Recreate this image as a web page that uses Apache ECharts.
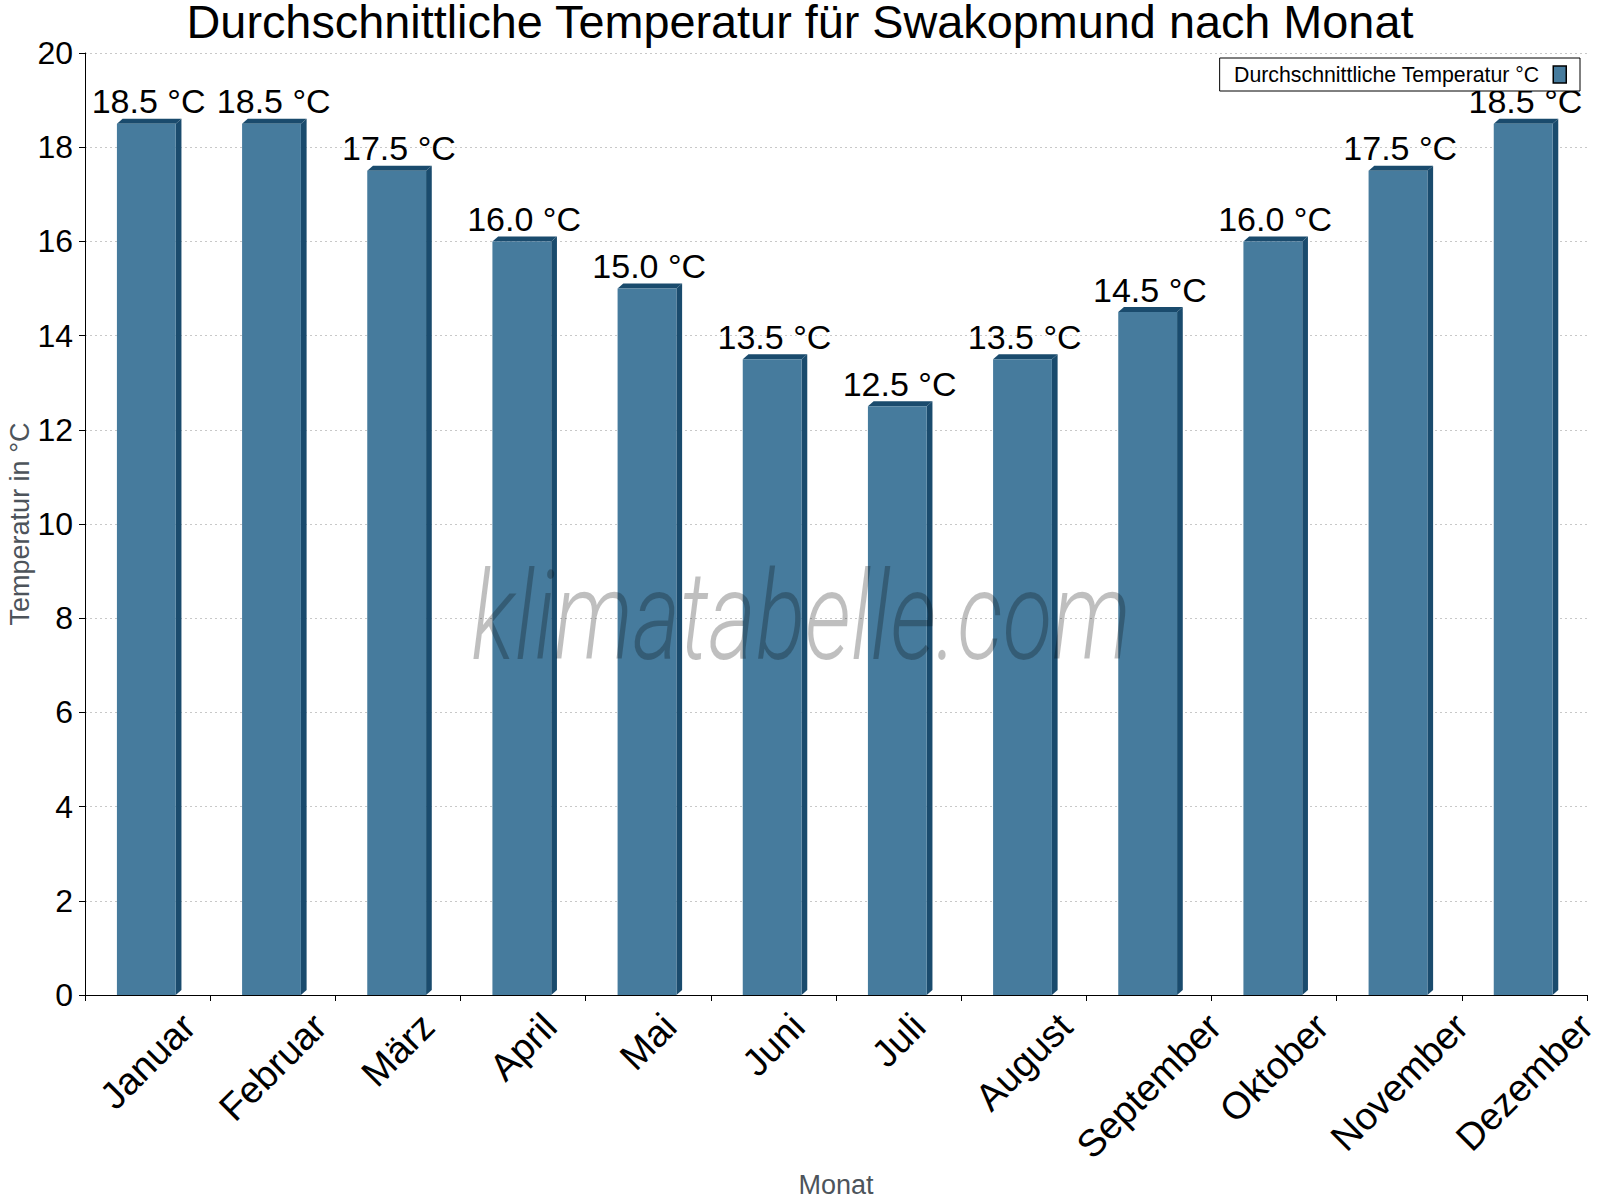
<!DOCTYPE html>
<html>
<head>
<meta charset="utf-8">
<script src="https://cdn.jsdelivr.net/npm/echarts@6/dist/echarts.min.js"></script>
<style>
html,body{margin:0;padding:0;background:#fff;overflow:hidden;}
#chart{width:1600px;height:1200px;}
</style>
</head>
<body>
<div id="chart"></div>
<script>
const categories = ['Januar','Februar','März','April','Mai','Juni','Juli','August','September','Oktober','November','Dezember'];
const temperatures = [18.5,18.5,17.5,16.0,15.0,13.5,12.5,13.5,14.5,16.0,17.5,18.5];
const yTickValues = [0,2,4,6,8,10,12,14,16,18,20];
const seriesName = 'Durchschnittliche Temperatur °C';
const titleText = 'Durchschnittliche Temperatur für Swakopmund nach Monat';
const yAxisTitle = 'Temperatur in °C';
const xAxisTitle = 'Monat';
const watermarkText = 'klimatabelle.com';

const FONT = '"Liberation Sans", Arial, Helvetica, sans-serif';
const FRONT = '#467b9d';
const DARK = '#1a4b6d';
const MONTH_FS = 38;

const measureCtx = document.createElement('canvas').getContext('2d');
measureCtx.font = MONTH_FS + 'px "Liberation Sans", Arial, sans-serif';

const chart = echarts.init(document.getElementById('chart'), null, {renderer: 'svg'});

function renderItem(params, api) {
  const i = api.value(0);
  const v = api.value(1);
  const top = api.coord([i, v]);
  const base = api.coord([i, 0]);
  const band = api.size([1, 0])[0];
  const cx = top[0];
  const fw = band * 0.47;
  const fl = cx - band * 0.245;
  const fr = fl + fw;
  const dx = 5.7, dy = 5;
  const name = categories[i];
  const L = measureCtx.measureText(name).width;
  const yc = base[1] + 15 + (L + 0.75 * MONTH_FS) * 0.3536;
  return {
    type: 'group',
    children: [
      {type: 'polygon', shape: {points: [[fr, top[1]], [fr + dx, top[1] - dy], [fr + dx, base[1] - dy], [fr, base[1]]]}, style: {fill: DARK}},
      {type: 'polygon', shape: {points: [[fl, top[1]], [fl + dx, top[1] - dy], [fr + dx, top[1] - dy], [fr, top[1]]]}, style: {fill: DARK}},
      {type: 'rect', shape: {x: fl, y: top[1], width: fw, height: base[1] - top[1]}, style: {fill: FRONT}},
      {type: 'text', x: cx + 1, y: top[1] - 22.5, style: {text: v.toFixed(1) + ' °C', fontSize: 34, fontFamily: FONT, fill: '#000', align: 'center', verticalAlign: 'middle'}},
      {type: 'text', x: cx, y: yc, rotation: Math.PI / 4, style: {text: name, fontSize: MONTH_FS, fontFamily: FONT, fill: '#000', align: 'center', verticalAlign: 'middle'}}
    ]
  };
}

const option = {
  animation: false,
  backgroundColor: '#fff',
  title: {
    text: titleText,
    left: 'center',
    top: 1,
    padding: 0,
    textStyle: {fontSize: 46.8, lineHeight: 42, fontWeight: 'normal', color: '#000', fontFamily: FONT}
  },
  legend: {
    right: 20,
    top: 58,
    align: 'right',
    data: [{name: seriesName, icon: 'rect', itemStyle: {color: FRONT, borderColor: '#000', borderWidth: 1.5}}],
    itemWidth: 13,
    itemHeight: 17,
    textStyle: {fontSize: 21.3, color: '#000', fontFamily: FONT, padding: [0, 9, 0, 0]},
    borderColor: '#000',
    borderWidth: 1,
    borderRadius: 0,
    padding: [6, 13, 6, 14],
    backgroundColor: '#fff'
  },
  grid: {left: 85, right: 13, top: 53, bottom: 205, containLabel: false, outerBoundsMode: 'none'},
  xAxis: {
    type: 'category',
    data: categories,
    boundaryGap: true,
    name: xAxisTitle,
    nameLocation: 'middle',
    nameGap: 176,
    nameMoveOverlap: false,
    nameTextStyle: {fontSize: 27, color: '#4d545b', fontFamily: FONT},
    axisLine: {show: true, lineStyle: {color: '#000', width: 1}},
    axisTick: {show: true, interval: 0, length: 6, lineStyle: {color: '#000'}},
    axisLabel: {show: false},
    splitLine: {show: false}
  },
  yAxis: {
    type: 'value',
    min: yTickValues[0],
    max: yTickValues[yTickValues.length - 1],
    interval: yTickValues[1] - yTickValues[0],
    name: yAxisTitle,
    nameLocation: 'middle',
    nameGap: 52,
    nameMoveOverlap: false,
    nameTextStyle: {fontSize: 27, color: '#4d545b', fontFamily: FONT},
    axisLine: {show: true, lineStyle: {color: '#000', width: 1}},
    axisTick: {show: true, length: 6, lineStyle: {color: '#000'}},
    axisLabel: {fontSize: 32, color: '#000', fontFamily: FONT, margin: 12},
    splitLine: {show: true, lineStyle: {color: '#c8c8c8', type: [2, 3], width: 1}}
  },
  series: [{
    name: seriesName,
    type: 'custom',
    renderItem: renderItem,
    encode: {x: 0, y: 1},
    clip: false,
    itemStyle: {color: FRONT},
    data: temperatures.map((v, i) => [i, v]),
    z: 2
  }],
  graphic: [{
    type: 'text',
    x: 801,
    y: 617,
    scaleX: 0.735,
    z: 100,
    silent: true,
    style: {
      text: watermarkText,
      fontSize: 124,
      fontStyle: 'italic',
      fontWeight: 300,
      fontFamily: 'Roboto, "Open Sans", sans-serif',
      fill: 'rgba(0,0,0,0.25)',
      align: 'center',
      verticalAlign: 'middle'
    }
  }]
};
chart.setOption(option);
</script>
</body>
</html>
